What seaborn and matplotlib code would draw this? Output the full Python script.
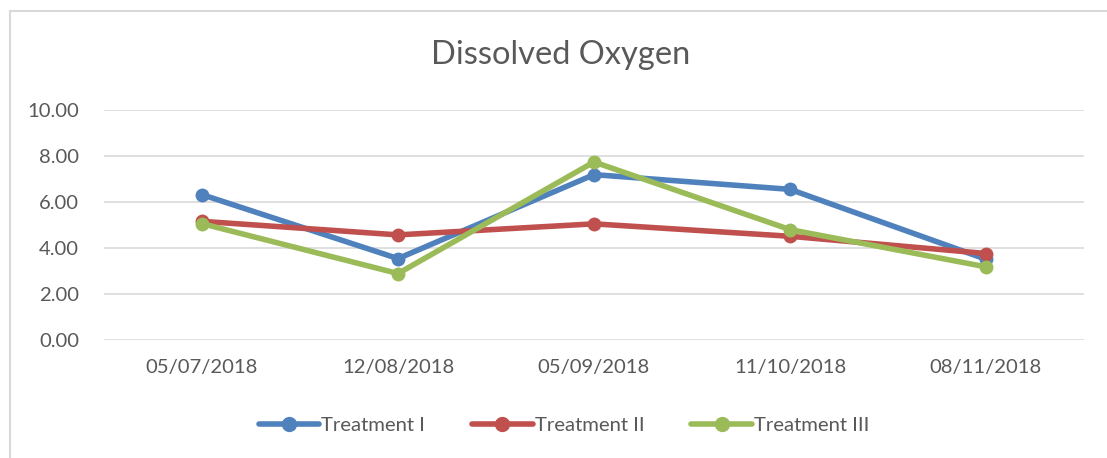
import pandas as pd
import matplotlib.pyplot as plt
import seaborn as sns
from matplotlib.lines import Line2D

dates = ["05/07/2018", "12/08/2018", "05/09/2018", "11/10/2018", "08/11/2018"]
treatment_1 = [6.32, 3.54, 7.19, 6.55, 3.51]
treatment_2 = [5.16, 4.57, 5.05, 4.51, 3.76]
treatment_3 = [5.06, 2.89, 7.74, 4.80, 3.18]
series_names = ["Treatment I", "Treatment II", "Treatment III"]
colors = ["#4F81BD", "#C0504D", "#9BBB59"]

df = pd.DataFrame({
    "Date": dates * 3,
    "DO": treatment_1 + treatment_2 + treatment_3,
    "Treatment": [n for n in series_names for _ in dates],
})

sns.set_style("white")
plt.rcParams["font.family"] = ["Lato", "DejaVu Sans"]
text_color = "#595959"

fig = plt.figure(figsize=(11.07, 4.58), dpi=100)
ax = fig.add_axes([104 / 1107, 1 - 340 / 458, 980 / 1107, 230 / 458])

sns.lineplot(
    data=df,
    x="Date",
    y="DO",
    hue="Treatment",
    palette=colors,
    marker="o",
    markersize=10,
    markeredgewidth=0,
    linewidth=4,
    sort=False,
    legend=False,
    ax=ax
)

ax.set_xlim(-0.5, 4.5)
ax.set_ylim(0, 10)
ax.set_yticks([0, 2, 4, 6, 8, 10])
ax.set_yticklabels([f"{v:.2f}" for v in [0, 2, 4, 6, 8, 10]])
ax.grid(axis="y", color="#D9D9D9", linewidth=1.2)
ax.set_axisbelow(True)
for s in ax.spines.values():
    s.set_visible(False)
ax.tick_params(axis="both", length=0, labelsize=14.6, labelcolor=text_color)
ax.tick_params(axis="x", pad=14)
ax.tick_params(axis="y", pad=18)
ax.set_xlabel("")
ax.set_ylabel("")

fig.text(561 / 1107, 1 - 55 / 458, "Dissolved Oxygen", ha="center", va="center",
         fontsize=23.5, color=text_color)

handles = [Line2D([0], [0], color=c, linewidth=4, marker="o", markersize=10)
           for c in colors]
fig.legend(handles, series_names, loc="center", bbox_to_anchor=(564 / 1107, 1 - 425 / 458),
           ncol=3, frameon=False, fontsize=14.6, labelcolor=text_color,
           handlelength=3, handletextpad=0.1, columnspacing=2.3)

# outer chart frame
fig.add_artist(Line2D([10 / 1107, 10 / 1107], [0, 1 - 11 / 458], color="#D9D9D9", linewidth=1.5))
fig.add_artist(Line2D([10 / 1107, 1], [1 - 11 / 458, 1 - 11 / 458], color="#D9D9D9", linewidth=1.5))

fig.savefig("out.png", dpi=100)
